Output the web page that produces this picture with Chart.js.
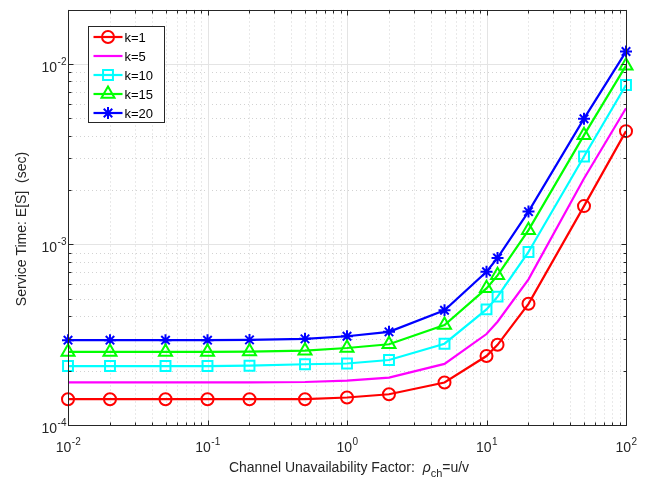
<!DOCTYPE html>
<html>
<head>
<meta charset="utf-8">
<script src="https://cdn.jsdelivr.net/npm/chart.js@4.4.0/dist/chart.umd.min.js"></script>
<style>
  html, body { margin: 0; padding: 0; background: #fff; }
  #wrap { width: 648px; height: 480px; }
</style>
</head>
<body>
<div id="wrap"><canvas id="myChart" width="648" height="480"></canvas></div>
<script>
// channel unavailability factor (x)
const rho = [0.01, 0.02, 0.05, 0.1, 0.2, 0.5, 1, 2, 5, 10, 12, 20, 50, 100];

// service time E[S] for each k
const k1  = [1.39e-4, 1.39e-4, 1.39e-4, 1.39e-4, 1.39e-4, 1.39e-4, 1.42e-4, 1.48e-4, 1.72e-4, 2.41e-4, 2.78e-4, 4.69e-4, 1.63e-3, 4.24e-3];
const k5  = [1.72e-4, 1.72e-4, 1.72e-4, 1.72e-4, 1.72e-4, 1.73e-4, 1.76e-4, 1.83e-4, 2.18e-4, 3.19e-4, 3.73e-4, 6.41e-4, 2.32e-3, 5.68e-3];
const k10 = [2.12e-4, 2.12e-4, 2.12e-4, 2.12e-4, 2.13e-4, 2.17e-4, 2.19e-4, 2.29e-4, 2.82e-4, 4.37e-4, 5.14e-4, 9.08e-4, 3.07e-3, 7.64e-3];
const k15 = [2.54e-4, 2.54e-4, 2.54e-4, 2.54e-4, 2.55e-4, 2.58e-4, 2.67e-4, 2.80e-4, 3.58e-4, 5.71e-4, 6.74e-4, 1.20e-3, 4.03e-3, 9.77e-3];
const k20 = [2.95e-4, 2.95e-4, 2.95e-4, 2.95e-4, 2.96e-4, 3.00e-4, 3.10e-4, 3.28e-4, 4.32e-4, 7.06e-4, 8.42e-4, 1.52e-3, 4.97e-3, 1.17e-2];

const seriesNames = ['k=1', 'k=5', 'k=10', 'k=15', 'k=20'];

// decade tick values
const xTicks = [0.01, 0.1, 1, 10, 100];
const yTicks = [1e-4, 1e-3, 1e-2];

const FONT = '"Liberation Sans", Arial, Helvetica, sans-serif';
const INK = '#262626';

function pts(ys) {
  return rho.map((r, i) => ({ x: r, y: ys[i] }));
}

function minorVals(min, max) {
  let out = [];
  for (let e = Math.floor(Math.log10(min)); Math.pow(10, e) <= max; e++) {
    for (let m = 2; m <= 9; m++) {
      let v = m * Math.pow(10, e);
      if (v > min * 1.0001 && v < max * 0.9999) out.push(v);
    }
  }
  return out;
}

// "10" with a raised exponent
function drawPow(ctx, value, x, y, align) {
  let exp = String(Math.round(Math.log10(value)));
  ctx.font = '14px ' + FONT;
  let wBase = ctx.measureText('10').width;
  ctx.font = '10px ' + FONT;
  let wExp = ctx.measureText(exp).width;
  let start = align === 'right' ? x - wBase - wExp : x - (wBase + wExp) / 2;
  ctx.textAlign = 'left';
  ctx.textBaseline = 'alphabetic';
  ctx.font = '14px ' + FONT;
  ctx.fillText('10', start, y);
  ctx.font = '10px ' + FONT;
  ctx.fillText(exp, start + wBase + 0.5, y - 7);
}

const matlabAxes = {
  id: 'matlabAxes',
  beforeDatasetsDraw(chart) {
    const { ctx, chartArea: a, scales: { x, y } } = chart;
    ctx.save();
    ctx.lineWidth = 1;

    // minor grid, dotted
    ctx.strokeStyle = '#d2d2d2';
    ctx.setLineDash([1, 3]);
    ctx.beginPath();
    minorVals(x.min, x.max).forEach(v => {
      let px = Math.round(x.getPixelForValue(v)) + 0.5;
      ctx.moveTo(px, a.top); ctx.lineTo(px, a.bottom);
    });
    minorVals(y.min, y.max).forEach(v => {
      let py = Math.round(y.getPixelForValue(v)) + 0.5;
      ctx.moveTo(a.left, py); ctx.lineTo(a.right, py);
    });
    ctx.stroke();

    // major grid, solid
    ctx.setLineDash([]);
    ctx.strokeStyle = '#e4e4e4';
    ctx.beginPath();
    xTicks.forEach(v => {
      let px = Math.round(x.getPixelForValue(v)) + 0.5;
      ctx.moveTo(px, a.top); ctx.lineTo(px, a.bottom);
    });
    yTicks.forEach(v => {
      let py = Math.round(y.getPixelForValue(v)) + 0.5;
      ctx.moveTo(a.left, py); ctx.lineTo(a.right, py);
    });
    ctx.stroke();
    ctx.restore();
  },
  afterDatasetsDraw(chart) {
    const { ctx, chartArea: a, scales: { x, y } } = chart;
    ctx.save();
    ctx.strokeStyle = INK;
    ctx.fillStyle = INK;
    ctx.lineWidth = 1;

    // box
    let L = Math.round(a.left) + 0.5, R = Math.round(a.right) + 0.5;
    let T = Math.round(a.top) + 0.5, B = Math.round(a.bottom) + 0.5;
    ctx.strokeRect(L, T, R - L, B - T);

    // inward ticks on all sides
    ctx.beginPath();
    xTicks.forEach(v => {
      let px = Math.round(x.getPixelForValue(v)) + 0.5;
      ctx.moveTo(px, B); ctx.lineTo(px, B - 5);
      ctx.moveTo(px, T); ctx.lineTo(px, T + 5);
    });
    minorVals(x.min, x.max).forEach(v => {
      let px = Math.round(x.getPixelForValue(v)) + 0.5;
      ctx.moveTo(px, B); ctx.lineTo(px, B - 3);
      ctx.moveTo(px, T); ctx.lineTo(px, T + 3);
    });
    yTicks.forEach(v => {
      let py = Math.round(y.getPixelForValue(v)) + 0.5;
      ctx.moveTo(L, py); ctx.lineTo(L + 5, py);
      ctx.moveTo(R, py); ctx.lineTo(R - 5, py);
    });
    minorVals(y.min, y.max).forEach(v => {
      let py = Math.round(y.getPixelForValue(v)) + 0.5;
      ctx.moveTo(L, py); ctx.lineTo(L + 3, py);
      ctx.moveTo(R, py); ctx.lineTo(R - 3, py);
    });
    ctx.stroke();

    // tick labels
    xTicks.forEach(v => drawPow(ctx, v, x.getPixelForValue(v), a.bottom + 27, 'center'));
    yTicks.forEach(v => drawPow(ctx, v, a.left - 2, y.getPixelForValue(v) + 8, 'right'));

    // y title
    ctx.save();
    ctx.translate(26, 229);
    ctx.rotate(-Math.PI / 2);
    ctx.font = '14px ' + FONT;
    ctx.textAlign = 'center';
    ctx.textBaseline = 'alphabetic';
    ctx.fillText('Service Time: E[S]  (sec)', 0, 0);
    ctx.restore();

    // x title with subscript
    let parts = [
      { t: 'Channel Unavailability Factor:  ', f: '14px ' + FONT, dy: 0 },
      { t: 'ρ', f: 'italic 14px ' + FONT, dy: 0 },
      { t: 'ch', f: '11px ' + FONT, dy: 5 },
      { t: '=u/v', f: '14px ' + FONT, dy: 0 }
    ];
    let total = 0;
    parts.forEach(p => { ctx.font = p.f; p.w = ctx.measureText(p.t).width; total += p.w; });
    let cx = (a.left + a.right) / 2 + 2 - total / 2;
    ctx.textAlign = 'left';
    parts.forEach(p => {
      ctx.font = p.f;
      ctx.fillText(p.t, cx, 472 + p.dy);
      cx += p.w;
    });

    // legend
    let lx = 88.5, ly = 26.5, lw = 76, lh = 96;
    ctx.fillStyle = '#fff';
    ctx.fillRect(lx, ly, lw, lh);
    ctx.strokeStyle = INK;
    ctx.strokeRect(lx, ly, lw, lh);
    chart.data.datasets.forEach((ds, i) => {
      let yy = ly + 10.5 + i * 19;
      ctx.strokeStyle = ds.borderColor;
      ctx.lineWidth = ds.borderWidth;
      ctx.beginPath();
      ctx.moveTo(lx + 5, yy); ctx.lineTo(lx + 34, yy);
      ctx.stroke();
      if (ds.pointRadius > 0) {
        ctx.fillStyle = 'rgba(0,0,0,0)';
        ctx.lineWidth = ds.pointBorderWidth;
        Chart.helpers.drawPoint(ctx, {
          pointStyle: ds.pointStyle, radius: ds.pointRadius,
          borderWidth: ds.pointBorderWidth, rotation: 0
        }, lx + 19.5, yy);
      }
      ctx.fillStyle = '#000';
      ctx.font = '13px ' + FONT;
      ctx.textBaseline = 'middle';
      ctx.fillText(ds.label, lx + 36, yy + 1);
    });
    ctx.restore();
  }
};

function series(label, ys, color, style, radius) {
  return {
    label: label,
    data: pts(ys),
    borderColor: color,
    backgroundColor: color,
    borderWidth: 2.2,
    pointStyle: style,
    pointRadius: radius,
    pointHoverRadius: radius,
    pointBorderWidth: 2,
    pointBorderColor: color,
    pointBackgroundColor: 'rgba(0,0,0,0)',
    tension: 0,
    clip: false
  };
}

new Chart(document.getElementById('myChart'), {
  type: 'line',
  data: {
    datasets: [
      series(seriesNames[0], k1, '#ff0000', 'circle', 6),
      series(seriesNames[1], k5, '#ff00ff', 'circle', 0),
      series(seriesNames[2], k10, '#00ffff', 'rect', 7),
      series(seriesNames[3], k15, '#00ff00', 'triangle', 7.5),
      series(seriesNames[4], k20, '#0000ff', 'star', 6)
    ]
  },
  options: {
    responsive: false,
    animation: false,
    devicePixelRatio: 1,
    layout: { padding: { left: 0, top: 3, right: 22, bottom: 0 } },
    plugins: { legend: { display: false }, tooltip: { enabled: false } },
    scales: {
      x: {
        type: 'logarithmic',
        min: 0.01,
        max: 100,
        grid: { display: false },
        border: { display: false },
        ticks: { display: false },
        afterFit: s => { s.height = 55; }
      },
      y: {
        type: 'logarithmic',
        min: 1e-4,
        max: 2e-2,
        grid: { display: false },
        border: { display: false },
        ticks: { display: false },
        afterFit: s => { s.width = 68; }
      }
    }
  },
  plugins: [matlabAxes]
});
</script>
</body>
</html>
